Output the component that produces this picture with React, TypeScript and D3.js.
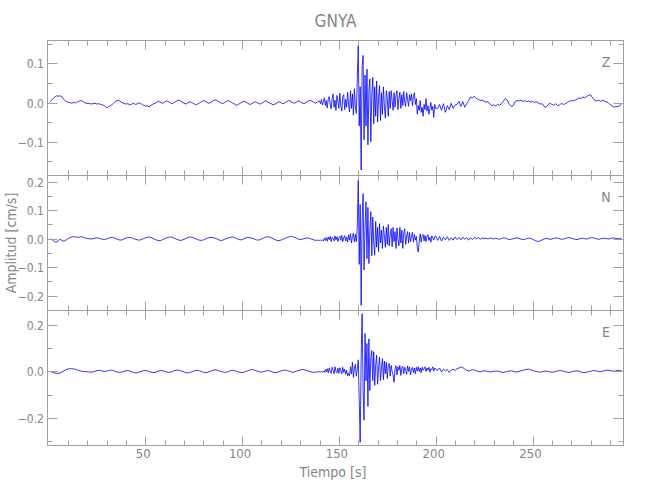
import React from "react";
import * as d3 from "d3";

// ---------- data ----------
const TITLE = "GNYA";
const X_LABEL = "Tiempo [s]";
const Y_LABEL = "Amplitud [cm/s]";
const CHANNELS = ["Z", "N", "E"];
const X_DOMAIN = [-0.5, 297];
const X_MAJOR = [50, 100, 150, 200, 250];
const X_MINOR = [10, 20, 30, 40, 60, 70, 80, 90, 110, 120, 130, 140, 160, 170, 180, 190, 210, 220, 230, 240, 260, 270, 280, 290];

// three record segments: before (1 s samples), strong motion (0.5 s samples), after (1 s samples)
const PRE_START = 1;
const PRE_STEP = 1;
const STRONG_START = 140;
const STRONG_STEP = 0.5;
const POST_START = 201;
const POST_STEP = 1;

// amplitudes in units of 0.001 cm/s
const Z_PRE = [
  2, 8, 13, 17, 16, 17, 14, 8, 3, 1,
  0, -2, 0, -1, 2, 4, 5, 2, -1, -3,
  -2, -4, -3, -2, -4, -3, -5, -6, -9, -13,
  -11, -8, -5, 0, 4, 6, 3, 0, -2, -4,
  -3, -6, -4, -2, -5, -3, -1, -4, -7, -9,
  -8, -11, -7, -4, -2, 1, 3, 0, -2, 1,
  4, 2, -1, -3, 0, 3, 6, 4, 1, -2,
  -4, -1, 2, 0, -3, -6, -4, -1, 2, 5,
  3, 0, -2, 1, 4, 7, 5, 2, -1, -3,
  0, 3, 5, 2, -1, -4, -7, -5, -2, 1,
  3, 1, -2, -5, -3, 0, 2, -1, -4, -2,
  1, 4, 2, -1, -3, -6, -4, -1, 2, 0,
  -3, -1, 2, 5, 3, 0, -2, 1, 4, 2,
  -1, -3, 0, 3, 6, 4, 1, -2, 2,
];
const Z_STRONG = [
  4, -3, 8, -6, 2, 12, -8, 5, -14, 9,
  15, -4, -16, 10, 22, -12, 6, -20, 18, 3,
  -15, 24, -8, -22, 14, 20, -18, 8, -12, 26,
  -5, -24, 30, -15, 22, -32, 35, -10, -28, 60,
  145, -60, 40, -172, 90, 120, -95, 70, -60, 85,
  -108, 30, 60, -100, 20, 64, -54, 40, -35, 55,
  -50, 15, 43, -46, 25, -30, 40, -10, -40, 30,
  12, -35, 28, -15, 30, 5, -20, 25, -12, 18,
  30, -18, 10, 26, -15, 20, -8, 28, 0, -10,
  25, 8, -10, 20, 5, 22, -8, 15, 25, -5,
  10, -30, -8, -20, 5, -25, -12, -35, -5, -18,
  10, -22, -8, -30, -15, 0, -20, -10, -38, -5,
  -15,
];
const Z_POST = [
  -15, -5, -20, -3, -25, -8, -18, -2, -15, -6,
  -5, 3, -10, 2, -12, -3, 5, 14, 12, 16,
  10, 8, 5, 6, 3, 1, 2, -4, -8, -6,
  -9, -5, -7, -3, 4, 10, 6, -5, -10, -8,
  2, 5, 4, 6, 3, 5, 2, 4, 1, 3,
  0, 2, -1, -4, -3, -10, -12, -6, -2, -5,
  -7, -3, -8, -6, -2, -5, -3, 0, 3, 5,
  4, 6, 8, 12, 10, 14, 12, 16, 18, 20,
  12, 6, 4, 6, 3, 5, 4, 2, 0, -5,
  -8, -12, -10, -11, -8, -4,
];

const N_PRE = [
  0, -4, -10, -12, -8, -2, -6, -9, -5, 0,
  4, 6, 7, 6, 5, 6, 7, 5, 3, 1,
  0, -1, 0, 2, 3, 2, 0, -2, -3, -1,
  2, 4, 5, 3, 0, -3, -5, -4, -1, 2,
  4, 5, 3, 0, -2, -4, -5, -3, 0, 3,
  5, 6, 4, 1, -2, -5, -7, -6, -3, 0,
  3, 5, 6, 5, 2, -1, -4, -6, -5, -2,
  1, 4, 6, 5, 3, 0, -3, -5, -6, -4,
  -1, 2, 4, 5, 4, 2, -1, -4, -6, -5,
  -2, 1, 3, 5, 6, 4, 1, -2, -4, -3,
  0, 3, 5, 4, 2, 0, -3, -5, -4, -1,
  2, 5, 7, 6, 3, 0, -3, -6, -7, -5,
  -2, 1, 4, 6, 8, 7, 5, 2, -1, -3,
  -2, 0, 2, 3, 1, -2, -4, -6, -5,
];
const N_STRONG = [
  -6, -5, -7, -4, -8, 2, -6, 4, -9, 6,
  -3, 8, -10, 5, 2, -8, 10, -4, 7, -10,
  4, 9, -6, 12, -10, 3, 11, -8, 6, -12,
  14, -5, 18, -15, 8, 20, -12, 15, -10, 40,
  205, -90, 120, -234, 60, 158, -110, 40, 130, -70,
  110, -87, 30, 95, -60, 76, -20, -58, 60, -30,
  40, -45, 53, -15, 30, -34, 45, 10, -30, 40,
  -20, 50, -25, 15, 35, -28, 40, -10, 25, -34,
  38, 0, -25, 40, -15, 30, -34, 20, 35, -20,
  10, 25, -15, 22, -10, 5, 23, -12, 15, -5,
  8, -30, -47, -10, 17, -12, 10, 15, -8, 12,
  -10, 8, 14, -6, 5, -12, 10, 3, -5, 8,
  10,
];
const N_POST = [
  -6, 8, -8, 5, -4, 7, -6, 3, -5, 6,
  -3, 5, -4, 6, -2, 4, -5, 3, -3, 5,
  0, 4, -2, 3, 0, 2, -1, 3, 1, -1,
  2, 0, -2, 1, 3, 2, -1, -3, -2, 0,
  2, 3, 1, -1, -3, -2, 0, 2, 1, -2,
  -5, -8, -10, -7, -4, -1, 1, 0, -2, -1,
  1, 3, 2, 0, -2, -1, 1, 3, 4, 2,
  0, -2, -3, -1, 1, 2, 0, -1, 1, 3,
  4, 2, 0, -2, -1, 1, 2, 1, -1, 0,
  2, 3, 1, 0, 1, 2,
];

const E_PRE = [
  0, -3, -6, -8, -8, -6, -2, 3, 8, 11,
  12, 12, 11, 9, 6, 3, 1, 0, 0, -1,
  -2, -3, -2, 1, 4, 5, 4, 2, 0, 1,
  4, 6, 5, 2, -1, -3, -4, -2, 1, 3,
  4, 2, -1, -4, -6, -5, -2, 1, 3, 4,
  3, 0, -3, -5, -4, -1, 2, 4, 3, 1,
  -2, -4, -3, 0, 3, 5, 6, 4, 1, -2,
  -5, -6, -4, -1, 2, 4, 5, 3, 0, -3,
  -5, -4, -1, 2, 5, 7, 6, 3, 0, -2,
  -4, -3, 0, 3, 5, 4, 1, -2, -4, -5,
  -3, 0, 3, 6, 8, 7, 4, 1, -2, -3,
  -1, 2, 4, 3, 0, -3, -5, -4, -1, 2,
  4, 6, 5, 2, -1, -3, -2, 1, 4, 6,
  9, 8, 5, 2, 0, -2, -4, -3, -2,
];
const E_STRONG = [
  -1, -2, 0, -3, 2, -4, 8, -2, 12, -6,
  15, 2, -8, 18, 5, -10, 20, 0, -6, 14,
  -8, 16, 4, -10, 18, -4, 10, -12, 5, -20,
  -8, -18, 20, -10, 40, -25, 15, 30, -20, 10,
  50, -120, -304, 60, 248, -80, -210, 163, -40, 120,
  -150, 140, -82, 60, 90, -40, 85, -60, 30, 70,
  -55, 20, 62, -39, 15, 55, -35, 45, -10, 40,
  -30, 25, 35, -20, 26, 0, -15, -46, 10, 25,
  -15, 20, 5, 26, -17, 15, 22, -10, 18, 5,
  -12, 24, 0, 20, -15, 10, 18, -5, 15, -10,
  18, 2, 20, 0, 15, -5, 18, 5, 12, 20,
  0, 15, 5, 18, -3, 12, 8, 20, 2, 15,
  10,
];
const E_POST = [
  5, 15, -2, 10, 3, 8, -4, 6, 10, 4,
  12, 15, 19, 17, 10, 5, 2, 4, 8, 6,
  3, 0, -2, 1, 3, 2, 0, -2, -1, 1,
  2, 1, -1, -3, -4, -2, 0, 2, 3, 1,
  -1, -2, 0, 3, 5, 7, 9, 10, 8, 5,
  2, 0, -2, -3, -1, 1, 2, 0, -2, -3,
  -2, 0, 2, 4, 3, 1, -1, -3, -4, -2,
  0, 2, 3, 1, -2, -4, -5, -3, -1, 1,
  3, 4, 2, 0, -1, 1, 3, 5, 6, 4,
  2, 1, 3, 5, 4, 3,
];

const Z_DOMAIN = [-0.186, 0.158];
const N_DOMAIN = [-0.252, 0.222];
const E_DOMAIN = [-0.318, 0.262];
const Z_MAJOR = [-0.1, 0, 0.1];
const Z_MINOR = [-0.15, -0.05, 0.05, 0.15];
const N_MAJOR = [-0.2, -0.1, 0, 0.1, 0.2];
const N_MINOR = [-0.15, -0.05, 0.05, 0.15];
const E_MAJOR = [-0.2, 0, 0.2];
const E_MINOR = [-0.3, -0.1, 0.1];

function segmentPoints(pre: number[], strong: number[], post: number[]): [number, number][] {
  const pts: [number, number][] = [];
  pre.forEach((v, i) => pts.push([PRE_START + i * PRE_STEP, v / 1000]));
  strong.forEach((v, i) => pts.push([STRONG_START + i * STRONG_STEP, v / 1000]));
  post.forEach((v, i) => pts.push([POST_START + i * POST_STEP, v / 1000]));
  return pts;
}

const PANELS = [
  { name: CHANNELS[0], pts: segmentPoints(Z_PRE, Z_STRONG, Z_POST), domain: Z_DOMAIN, major: Z_MAJOR, minor: Z_MINOR },
  { name: CHANNELS[1], pts: segmentPoints(N_PRE, N_STRONG, N_POST), domain: N_DOMAIN, major: N_MAJOR, minor: N_MINOR },
  { name: CHANNELS[2], pts: segmentPoints(E_PRE, E_STRONG, E_POST), domain: E_DOMAIN, major: E_MAJOR, minor: E_MINOR },
];

// ---------- layout ----------
const W = 650;
const H = 500;
const LEFT = 47.5;
const RIGHT = 623.5;
const TOP = 40.5;
const PH = 135;
const AXIS = "#a0a0a0";
const TEXT = "#858585";
const FONT = "'Liberation Sans Narrow', 'DejaVu Sans Condensed', 'Liberation Sans', sans-serif";

export default function App() {
  const x = d3.scaleLinear().domain(X_DOMAIN).range([LEFT, RIGHT]);
  const fmt = d3.format(".1f");
  const bottom = TOP + PH * 3;

  return (
    <svg width={W} height={H} style={{ position: "absolute", left: 0, top: 0, background: "#fff" }}>
      <text x={(LEFT + RIGHT) / 2} y={27} textAnchor="middle" fontFamily={FONT} fontSize={17} fill={TEXT}>
        {TITLE}
      </text>
      {PANELS.map((p, pi) => {
        const top = TOP + pi * PH;
        const y = d3.scaleLinear().domain(p.domain).range([top + PH, top]);
        const line = d3
          .line<[number, number]>()
          .x((d) => x(d[0]))
          .y((d) => y(d[1]));
        return (
          <g key={p.name}>
            <path d={line(p.pts) || ""} fill="none" stroke="#0000ff" strokeWidth={0.8} strokeLinejoin="round" />
            <rect x={LEFT} y={top} width={RIGHT - LEFT} height={PH} fill="none" stroke={AXIS} strokeWidth={1} />
            {X_MAJOR.map((t) => (
              <g key={"xM" + t}>
                <line x1={Math.round(x(t)) + 0.5} x2={Math.round(x(t)) + 0.5} y1={top} y2={top + 9} stroke={AXIS} />
                <line x1={Math.round(x(t)) + 0.5} x2={Math.round(x(t)) + 0.5} y1={top + PH} y2={top + PH - 9} stroke={AXIS} />
              </g>
            ))}
            {X_MINOR.map((t) => (
              <g key={"xm" + t}>
                <line x1={Math.round(x(t)) + 0.5} x2={Math.round(x(t)) + 0.5} y1={top} y2={top + 5} stroke={AXIS} />
                <line x1={Math.round(x(t)) + 0.5} x2={Math.round(x(t)) + 0.5} y1={top + PH} y2={top + PH - 5} stroke={AXIS} />
              </g>
            ))}
            {p.major.map((v) => {
              const yy = Math.round(y(v)) + 0.5;
              return (
                <g key={"yM" + v}>
                  <line x1={LEFT} x2={LEFT + 10} y1={yy} y2={yy} stroke={AXIS} />
                  <line x1={RIGHT} x2={RIGHT - 10} y1={yy} y2={yy} stroke={AXIS} />
                  <text x={44} y={yy} dy="0.35em" textAnchor="end" fontFamily={FONT} fontSize={12} fill={TEXT}>
                    {fmt(v)}
                  </text>
                </g>
              );
            })}
            {p.minor.map((v) => {
              const yy = Math.round(y(v)) + 0.5;
              return (
                <g key={"ym" + v}>
                  <line x1={LEFT} x2={LEFT + 5} y1={yy} y2={yy} stroke={AXIS} />
                  <line x1={RIGHT} x2={RIGHT - 5} y1={yy} y2={yy} stroke={AXIS} />
                </g>
              );
            })}
            <text x={606} y={top + 26} textAnchor="middle" fontFamily={FONT} fontSize={14} fill={TEXT}>
              {p.name}
            </text>
          </g>
        );
      })}
      {X_MAJOR.map((t) => (
        <text key={"xl" + t} x={x(t) - 2} y={458} textAnchor="middle" fontFamily={FONT} fontSize={13} fill={TEXT}>
          {t}
        </text>
      ))}
      <text x={333} y={477} textAnchor="middle" fontFamily={FONT} fontSize={14} fill={TEXT}>
        {X_LABEL}
      </text>
      <text
        transform={`translate(16, ${(TOP + bottom) / 2}) rotate(-90)`}
        textAnchor="middle"
        fontFamily={FONT}
        fontSize={14}
        fill={TEXT}
      >
        {Y_LABEL}
      </text>
    </svg>
  );
}
